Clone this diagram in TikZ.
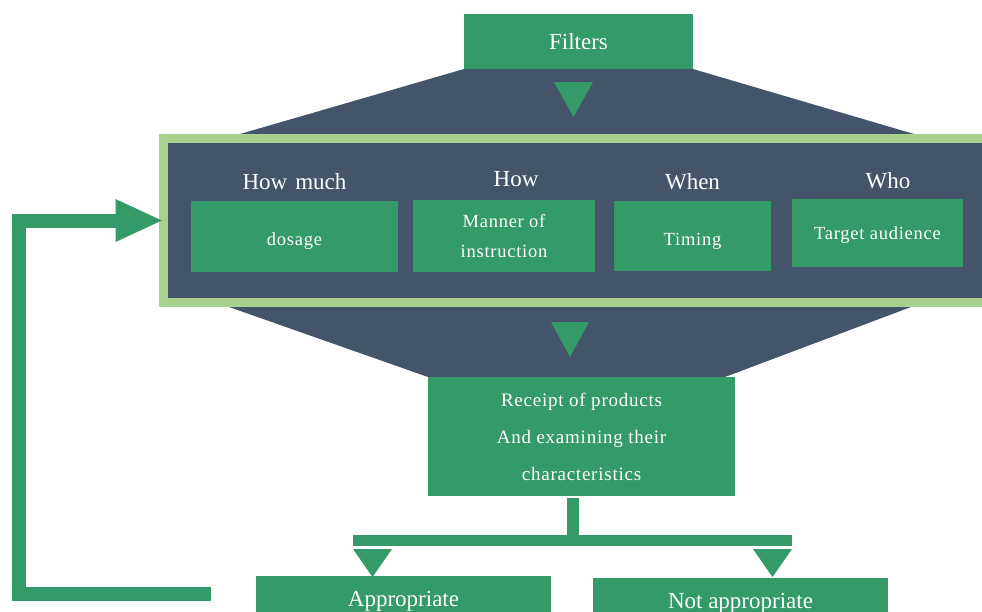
\documentclass[tikz,border=0pt]{standalone}
\usepackage{fontspec}
\setmainfont{Liberation Serif}
\newfontfamily\spacedserif[LetterSpace=4]{Liberation Serif}
\usetikzlibrary{positioning, arrows.meta, backgrounds}
\definecolor{boxgreen}{RGB}{52,154,104}
\definecolor{slate}{RGB}{68,84,106}
\definecolor{framegreen}{RGB}{169,209,142}

\begin{document}
\begin{tikzpicture}
	[x=1pt, y=-1pt,
	box/.style={rectangle, fill=boxgreen, text=white, align=center, inner sep=0pt, outer sep=0pt, font={\spacedserif\fontsize{18.5}{30}\selectfont}},
	bigbox/.style={box, font={\fontsize{23}{28}\selectfont}},
	head/.style={text=white, anchor=base, inner sep=0pt, font={\fontsize{23}{28}\selectfont}},
	tri/.style={fill=boxgreen},
	link/.style={draw=boxgreen, line width=11pt},
	feedback/.style={draw=boxgreen, line width=14pt, -{Triangle[length=48pt, width=39pt]}}]
   \useasboundingbox (0,0) rectangle (982,611);

   \node[bigbox, minimum width=229pt, minimum height=55pt] (filters) at (578.5,41.5) {Filters};
   \node[draw=framegreen, fill=slate, line width=9pt, outer sep=0pt, minimum width=850pt, minimum height=164pt] (frame) at (588.5,220.5) {};

   \node[box, minimum width=207pt, minimum height=71pt, text height=17pt, text depth=0pt] (dosage) at (294.5,236.5) {dosage};
   \node[box, minimum width=182pt, minimum height=72pt] (manner) at (504,236) {Manner of\\instruction};
   \node[box, minimum width=157pt, minimum height=70pt, text height=18pt, text depth=0pt] (timing) at (692.5,236) {Timing};
   \node[box, minimum width=171pt, minimum height=68pt, text height=12pt, text depth=0pt] (target) at (877.5,233) {Target audience};

   \node[head] (how_much) at (294.5,189) {How\hspace{.35em}much};
   \node[head] (how) at (516,186) {How};
   \node[head] (when) at (692.5,189) {When};
   \node[head] (who) at (888,188) {Who};

   \node[box, minimum width=307pt, minimum height=119pt, font={\spacedserif\fontsize{19}{37}\selectfont}] (receipt) at (581.5,436.5) {Receipt of products\\And examining their\\characteristics};

   \node[bigbox, minimum width=295pt, minimum height=50pt, anchor=north] (appropriate) at (403.5,576) {Appropriate};
   \node[bigbox, minimum width=295pt, minimum height=50pt, anchor=north] (not_appropriate) at (740.5,578) {Not appropriate};

   % funnel behind the frame
   \begin{scope}[on background layer]
   \fill[slate] (filters.south west) -- (filters.south east) -- (914,134) -- (911,307)
      -- (725,377) -- (receipt.north west) -- (229,307) -- (240,134) -- cycle;
   \end{scope}

   \fill[tri] (554,82) -- (593,82) -- (573.5,117) -- cycle;
   \fill[tri] (551,322) -- (589,322) -- (570,357) -- cycle;
   \fill[tri] (353,549) -- (392,549) -- (372.5,577) -- cycle;
   \fill[tri] (753,549) -- (792,549) -- (772.5,577) -- cycle;

   \coordinate (stem_top) at (573,498);
   \coordinate (split) at (573,540);
   \coordinate (bar_left) at (353,540);
   \coordinate (bar_right) at (792,540);
   \coordinate (back_start) at (211,593.5);

   \draw[link, line width=12pt] (stem_top) -- (split);
   \draw[link] (bar_left) -- (bar_right);
   \draw[feedback] (back_start) -- ++(-192.5,0) |- (frame.west);

\end{tikzpicture}
\end{document}
